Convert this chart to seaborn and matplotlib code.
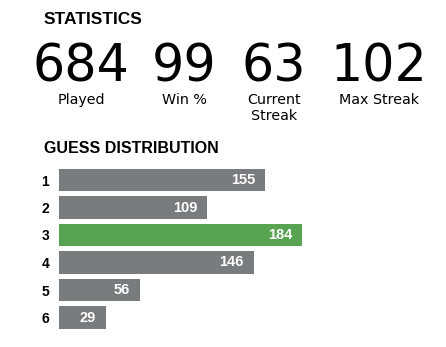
import matplotlib
matplotlib.use("Agg")
import matplotlib.pyplot as plt
import seaborn as sns
import pandas as pd

# ---- data ----
stat_values = ["684", "99", "63", "102"]
stat_labels = ["Played", "Win %", "Current\nStreak", "Max Streak"]
guesses = ["1", "2", "3", "4", "5", "6"]
counts = [155, 109, 184, 146, 56, 29]
highlight_guess = "3"

# ---- style ----
sns.set_theme(style="white")
plt.rcParams["font.family"] = ["Liberation Sans", "DejaVu Sans"]

GRAY = "#787c7e"
GREEN = "#58a351"
PAD = 8.1  # minimum bar padding (data units) like the Wordle layout

W, H = 446, 347
fig = plt.figure(figsize=(W / 100, H / 100), dpi=100)

def fx(px):
    return px / W

def fy(py):
    return 1 - py / H

# titles
fig.text(fx(44), fy(24), "STATISTICS", fontsize=12.5, fontweight="bold",
         color="black", va="baseline", ha="left")
fig.text(fx(44), fy(153), "GUESS DISTRIBUTION", fontsize=11.5, fontweight="bold",
         color="black", va="baseline", ha="left")

# statistics numbers
centers = [81, 184, 274, 379]
for cx, val, lab in zip(centers, stat_values, stat_labels):
    fig.text(fx(cx), fy(81), val, fontsize=36.5, color="black",
             family=["DejaVu Sans"], ha="center", va="baseline")
    fig.text(fx(cx), fy(93.2), lab, fontsize=10.3, color="black",
             family=["DejaVu Sans"],
             ha="center", va="top", linespacing=1.2, multialignment="center")

# guess distribution bars
df = pd.DataFrame({"guess": guesses, "count": counts})
df["width"] = df["count"] + PAD
palette = {g: (GREEN if g == highlight_guess else GRAY) for g in guesses}

left_px, right_px = 59, 430
top_px, bot_px = 166.25, 331.25
ax = fig.add_axes([fx(left_px), fy(bot_px), (right_px - left_px) / W,
                   (bot_px - top_px) / H])
sns.barplot(data=df, y="guess", x="width", hue="guess", palette=palette,
            order=guesses, orient="h", width=0.82, legend=False, ax=ax,
            saturation=1, edgecolor="none")
ax.set_xlim(0, (right_px - left_px) / 1.265)
ax.set_ylim(5.5, -0.5)
ax.set_xlabel("")
ax.set_ylabel("")
ax.set_xticks([])
for s in ax.spines.values():
    s.set_visible(False)
ax.tick_params(axis="y", length=0, pad=7)
for t in ax.get_yticklabels():
    t.set_fontweight("bold")
    t.set_fontsize(10)
    t.set_color("black")

for i, (c, w) in enumerate(zip(df["count"], df["width"])):
    ax.annotate(str(c), xy=(w, i), xytext=(-7.2, 0), textcoords="offset points",
                ha="right", va="center", color="white", fontweight="bold",
                fontsize=10.5)

fig.savefig("out.png", dpi=100)
